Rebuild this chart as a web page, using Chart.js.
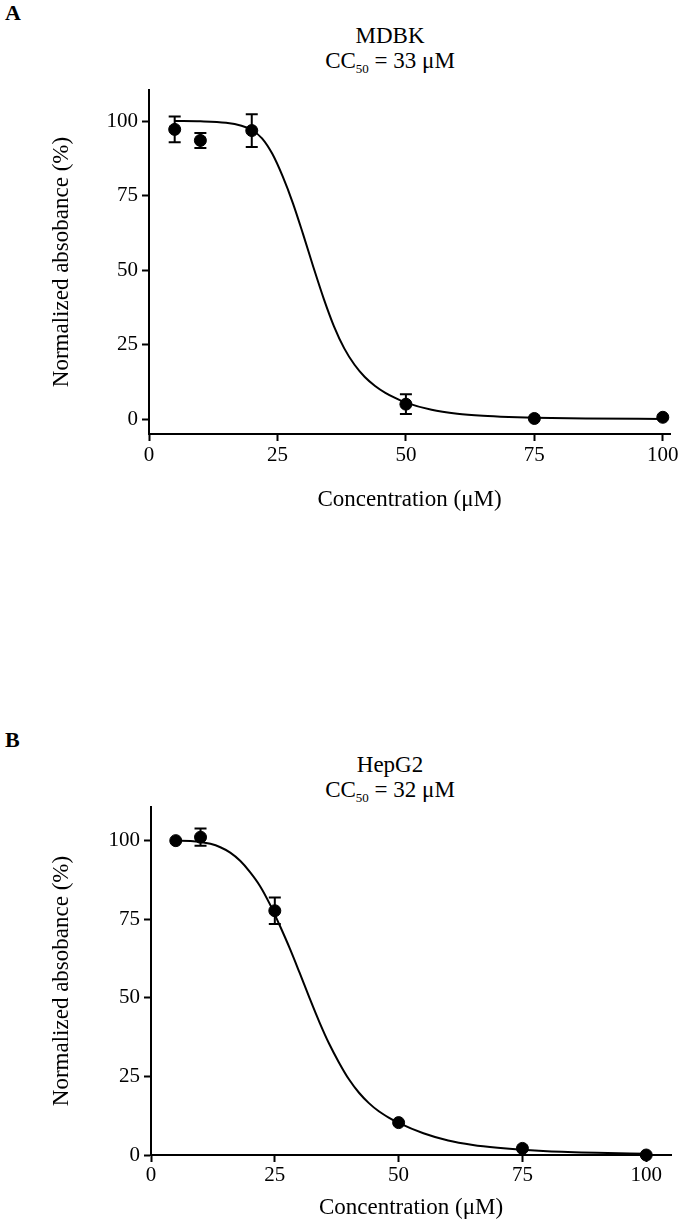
<!DOCTYPE html>
<html>
<head>
<meta charset="utf-8">
<script src="https://cdn.jsdelivr.net/npm/chart.js@4.4.1/dist/chart.umd.min.js"></script>
<style>
  body { margin: 0; background: #fff; width: 685px; height: 1229px; position: relative; font-family: 'Liberation Serif', 'Times New Roman', serif; color: #000; }
  .panel { position: absolute; left: 0; width: 685px; }
  .letter { position: absolute; left: 5px; font-weight: bold; font-size: 22px; line-height: 22px; }
  .title { position: absolute; width: 300px; text-align: center; font-size: 23px; line-height: 25px; }
  .title sub { font-size: 13px; vertical-align: -5px; line-height: 0; }
</style>
</head>
<body>
<div class="letter" style="top:2px">A</div>
<div class="title" style="left:240px;top:23px">MDBK<br>CC<sub>50</sub> = 33 μM</div>
<div class="panel" style="top:0;height:520px"><canvas id="chartA" width="685" height="520"></canvas></div>

<div class="letter" style="top:729px">B</div>
<div class="title" style="left:240px;top:752px">HepG2<br>CC<sub>50</sub> = 32 μM</div>
<div class="panel" style="top:700px;height:529px"><canvas id="chartB" width="685" height="529"></canvas></div>

<script>
const xTicks = [0, 25, 50, 75, 100];
const yTicks = [0, 25, 50, 75, 100];

// MDBK
const concA = [5, 10, 20, 50, 75, 100];
const meanA = [97.2, 93.5, 96.8, 5.1, 0.3, 0.7];
const sdA   = [4.3, 2.5, 5.5, 3.3, 0, 0];
const fitXA = [5, 10, 15, 18, 20, 22, 24, 26, 28, 30, 32, 34, 36, 38, 40, 42, 44, 46, 48, 50, 55, 60, 65, 70, 75, 85, 100];
const fitYA = [100, 99.9, 99.4, 98.4, 97.0, 94.2, 89.0, 81.5, 72.5, 62.0, 51.0, 40.5, 31.2, 23.8, 18.3, 14.2, 11.2, 8.9, 7.1, 5.6, 3.2, 1.9, 1.2, 0.8, 0.55, 0.3, 0.15];

// HepG2
const concB = [5, 10, 25, 50, 75, 100];
const meanB = [100, 101.1, 77.7, 10.3, 2.1, 0];
const sdB   = [0, 2.75, 4.2, 0, 0, 0];
const fitXB = [5, 8, 10, 12, 14, 16, 18, 20, 22, 24, 26, 28, 30, 32, 34, 36, 38, 40, 42, 44, 46, 48, 50, 55, 60, 65, 70, 75, 80, 90, 100];
const fitYB = [100, 99.9, 99.6, 99.0, 97.9, 96.2, 93.6, 90.0, 85.6, 79.8, 73.0, 65.8, 58.0, 50.0, 42.3, 35.3, 29.3, 24.0, 19.8, 16.5, 13.9, 11.9, 10.2, 6.9, 4.6, 3.2, 2.3, 1.65, 1.2, 0.7, 0.4];

const errorBars = {
  id: 'errorBars',
  afterDatasetsDraw(chart, args, opts) {
    const { ctx, scales: { x, y } } = chart;
    const pts = chart.data.datasets[1].data;
    ctx.save();
    ctx.strokeStyle = '#000';
    ctx.lineWidth = 2;
    pts.forEach((p, i) => {
      const e = opts.errors[i];
      if (!e) return;
      const px = x.getPixelForValue(p.x);
      const top = y.getPixelForValue(p.y + e), bot = y.getPixelForValue(p.y - e);
      ctx.beginPath();
      ctx.moveTo(px, top); ctx.lineTo(px, bot);
      ctx.moveTo(px - 6, top); ctx.lineTo(px + 6, top);
      ctx.moveTo(px - 6, bot); ctx.lineTo(px + 6, bot);
      ctx.stroke();
    });
    ctx.restore();
  }
};

function makeChart(id, c) {
  const font = { family: "'Liberation Serif', 'Times New Roman', serif" };
  return new Chart(document.getElementById(id), {
    type: 'scatter',
    data: {
      datasets: [
        { type: 'line', data: c.fitX.map((v, i) => ({ x: v, y: c.fitY[i] })), borderColor: '#000', borderWidth: 2, pointRadius: 0, cubicInterpolationMode: 'monotone', fill: false, clip: false },
        { data: c.conc.map((v, i) => ({ x: v, y: c.mean[i] })), backgroundColor: '#000', borderColor: '#000', pointRadius: 6, clip: false }
      ]
    },
    options: {
      responsive: false, animation: false,
      layout: { padding: { top: c.area.top, right: c.W - c.area.right, left: 0, bottom: 0 } },
      plugins: { legend: { display: false }, tooltip: { enabled: false }, errorBars: { errors: c.sd } },
      scales: {
        x: {
          type: 'linear', min: 0, max: c.xMax,
          afterFit: s => { s.height = c.H - c.area.bottom; },
          afterBuildTicks: s => { s.ticks = xTicks.map(v => ({ value: v })); },
          border: { display: true, color: '#000', width: 2 },
          grid: { display: true, drawOnChartArea: false, drawTicks: true, tickLength: 7, tickColor: '#000', tickWidth: 2 },
          ticks: { color: '#000', padding: c.xPad, font: { ...font, size: 21 }, maxRotation: 0 },
          title: { display: true, text: 'Concentration (μM)', color: '#000', font: { ...font, size: 23 }, padding: { top: 0, bottom: c.xTitlePad } }
        },
        y: {
          type: 'linear', min: c.yMin, max: c.yMax,
          afterFit: s => { s.width = c.area.left; },
          afterBuildTicks: s => { s.ticks = yTicks.map(v => ({ value: v })); },
          border: { display: true, color: '#000', width: 2 },
          grid: { display: true, drawOnChartArea: false, drawTicks: true, tickLength: 7, tickColor: '#000', tickWidth: 2 },
          ticks: { color: '#000', padding: 4, font: { ...font, size: 21 } },
          title: { display: true, text: 'Normalized absobance (%)', color: '#000', font: { ...font, size: 23 }, padding: { top: 48, bottom: 0 } }
        }
      }
    },
    plugins: [errorBars]
  });
}

makeChart('chartA', { W: 685, H: 520, area: { left: 149, top: 90, right: 670, bottom: 434 },
  xMax: 101.4, yMin: -4.9, yMax: 110.4, xPad: 2, xTitlePad: 6,
  conc: concA, mean: meanA, sd: sdA, fitX: fitXA, fitY: fitYA });

makeChart('chartB', { W: 685, H: 529, area: { left: 151, top: 107, right: 671, bottom: 455 },
  xMax: 105, yMin: 0, yMax: 110.7, xPad: 1, xTitlePad: 7,
  conc: concB, mean: meanB, sd: sdB, fitX: fitXB, fitY: fitYB });
</script>
</body>
</html>
